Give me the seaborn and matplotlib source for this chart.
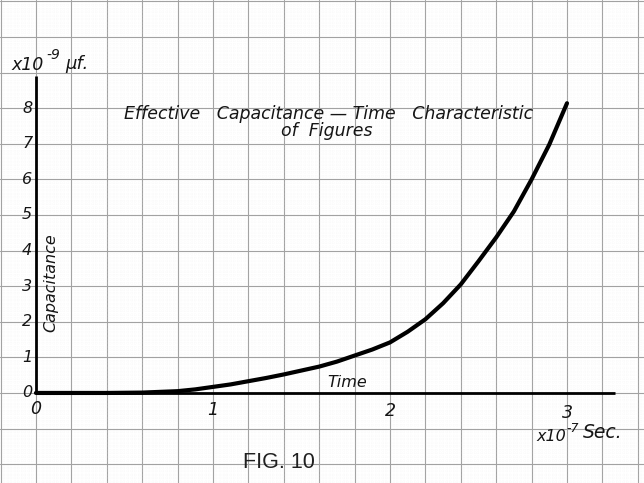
import matplotlib
matplotlib.use("Agg")
import matplotlib.pyplot as plt
from matplotlib.ticker import MultipleLocator
import seaborn as sns
import pandas as pd

# Effective capacitance (x10^-9 uF) against time (x10^-7 s)
time_vals = [0.0, 0.2, 0.4, 0.6, 0.8, 0.9, 1.0, 1.1, 1.2, 1.3, 1.4, 1.5,
             1.6, 1.7, 1.8, 1.9, 2.0, 2.1, 2.2, 2.3, 2.4, 2.5, 2.6, 2.7,
             2.8, 2.9, 3.0]
capacitance = [0.0, 0.0, 0.0, 0.01, 0.05, 0.10, 0.17, 0.24, 0.33, 0.42,
               0.52, 0.63, 0.74, 0.88, 1.05, 1.22, 1.42, 1.72, 2.07, 2.52,
               3.05, 3.70, 4.37, 5.10, 6.00, 6.98, 8.14]

x_tick_vals = [0, 1, 2, 3]
x_tick_text = ["0", "1", "2", "3"]
y_tick_vals = [0, 1, 2, 3, 4, 5, 6, 7, 8]
y_tick_text = ["0", "1", "2", "3", "4", "5", "6", "7", "8"]

title_lines = ["Effective   Capacitance \u2014 Time   Characteristic", "of  Figures"]
y_unit_parts = ["x10", "-9", "\u03bcf."]
x_unit_parts = ["x10", "-7", "Sec."]
x_name = "Time"
y_name = "Capacitance"
caption = "FIG. 10"

# extent of the ruled sheet in data units
X_LO, X_HI = -0.203, 3.435
Y_LO, Y_HI = -2.53, 11.04
X_AXIS_END = 3.27
Y_AXIS_END = 8.9

df = pd.DataFrame({"t": time_vals, "c": capacitance})

sns.set_style("white")
fig = plt.figure(figsize=(6.44, 4.83), dpi=100)
ax = fig.add_axes([0, 0, 1, 1])

ax.set_xlim(X_LO, X_HI)
ax.set_ylim(Y_LO, Y_HI)

# graph-paper ruling
ax.xaxis.set_major_locator(MultipleLocator(0.2))
ax.yaxis.set_major_locator(MultipleLocator(1.0))
ax.xaxis.set_minor_locator(MultipleLocator(0.02))
ax.yaxis.set_minor_locator(MultipleLocator(0.1))
ax.grid(which="minor", color="#ececec", lw=0.35, ls=(0, (1, 3)))
ax.grid(which="major", color="#a2a2a2", lw=0.8)
ax.set_axisbelow(True)
ax.tick_params(which="both", length=0, labelbottom=False, labelleft=False)
for s in ax.spines.values():
    s.set_visible(False)

# axes drawn as heavy ink lines
ax.hlines(0, 0, X_AXIS_END, color="black", lw=2.0, zorder=3)
ax.vlines(0, 0, Y_AXIS_END, color="black", lw=2.0, zorder=3)

sns.lineplot(data=df, x="t", y="c", ax=ax, color="black", lw=3.0,
             zorder=4, legend=False)
ax.set_xlabel("")
ax.set_ylabel("")

hand = dict(family="DejaVu Sans", style="italic", color="#151515")

for v, s in zip(y_tick_vals, y_tick_text):
    ax.text(-0.05, v, s, ha="center", va="center", fontsize=11.5, **hand)
for v, s in zip(x_tick_vals, x_tick_text):
    ax.text(v, -0.44 - 0.04 * v, s, ha="center", va="center", fontsize=12.5, **hand)

# unit of the vertical scale, lettered with a raised exponent
ax.text(-0.136, 9.21, y_unit_parts[0], ha="left", va="center", fontsize=12.5, **hand)
ax.text(0.06, 9.5, y_unit_parts[1], ha="left", va="center", fontsize=10, **hand)
ax.text(0.165, 9.24, y_unit_parts[2], ha="left", va="center", fontsize=13, **hand)

# unit of the time scale
ax.text(2.83, -1.21, x_unit_parts[0], ha="left", va="center", fontsize=11.5, **hand)
ax.text(2.995, -1.0, x_unit_parts[1], ha="left", va="center", fontsize=9, **hand)
ax.text(3.09, -1.1, x_unit_parts[2], ha="left", va="center", fontsize=13.5, **hand)

ax.text(1.76, 0.3, x_name, ha="center", va="center", fontsize=11.5, **hand)
ax.text(0.085, 3.1, y_name, ha="center", va="center", rotation=90,
        fontsize=11.5, **hand)

ax.text(1.655, 7.85, title_lines[0], ha="center", va="center", fontsize=12.5, **hand)
ax.text(1.645, 7.37, title_lines[1], ha="center", va="center", fontsize=12.5, **hand)

ax.text(1.37, -1.94, caption, ha="center", va="center", fontsize=15.5,
        family="Liberation Sans", color="#202020")

fig.savefig("out.png", dpi=100)
